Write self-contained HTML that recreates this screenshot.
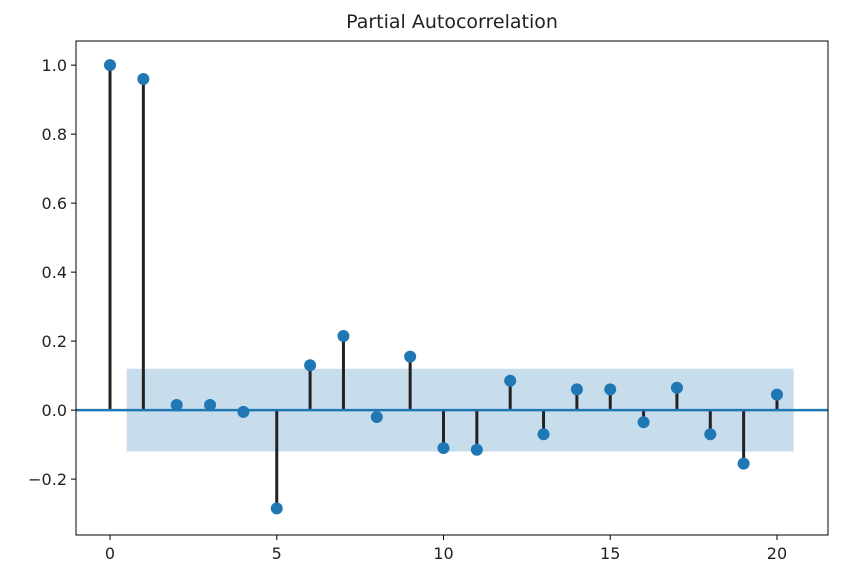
<!DOCTYPE html>
<html><head><meta charset="utf-8"><style>
body{margin:0;background:#fff;}
svg{display:block;font-family:"DejaVu Sans","Liberation Sans",sans-serif;}
</style></head><body>
<svg id="c" width="858" height="585"></svg>
<script>
const lags=[0,1,2,3,4,5,6,7,8,9,10,11,12,13,14,15,16,17,18,19,20];
const pacfValues=[1.0,0.96,0.015,0.015,-0.005,-0.285,0.13,0.215,-0.02,0.155,-0.11,-0.115,0.085,-0.07,0.06,0.06,-0.035,0.065,-0.07,-0.155,0.045];
const confBand=[-0.12,0.12];
const yTicks=[-0.2,0.0,0.2,0.4,0.6,0.8,1.0];
const yTickLabels=["\u22120.2","0.0","0.2","0.4","0.6","0.8","1.0"];
const xTicks=[0,5,10,15,20];
const L=76,R=828,T=41,B=535;
const xMin=-1.02,xMax=21.53,yMin=-0.362,yMax=1.07;
const X=v=>L+(v-xMin)/(xMax-xMin)*(R-L);
const Y=v=>B-(v-yMin)/(yMax-yMin)*(B-T);
const s=document.getElementById('c');const NS='http://www.w3.org/2000/svg';
function mk(t,a,p){const e=document.createElementNS(NS,t);for(const k in a)e.setAttribute(k,a[k]);(p||s).appendChild(e);return e;}
let band=mk('rect',{x:X(0.5),y:Y(confBand[1]),width:X(20.5)-X(0.5),height:Y(confBand[0])-Y(confBand[1]),fill:'#1f77b4','fill-opacity':0.25});


lags.forEach((l,i)=>{
 let ln=mk('line',{x1:X(l),x2:X(l),y1:Y(0),y2:Y(pacfValues[i]),stroke:'#222','stroke-width':3});
 
 
});
let zl=mk('line',{x1:L,x2:R,y1:Y(0),y2:Y(0),stroke:'#1f77b4','stroke-width':2.5});


lags.forEach((l,i)=>{
 let c=mk('circle',{cx:X(l),cy:Y(pacfValues[i]),r:6,fill:'#1f77b4'});
 
 
});
let fr=mk('rect',{x:L,y:T,width:R-L,height:B-T,fill:'none',stroke:'#000','stroke-width':1});


yTicks.forEach((v,i)=>{
 mk('line',{x1:L-5,x2:L,y1:Y(v),y2:Y(v),stroke:'#000'});
 let t=mk('text',{x:L-9,y:Y(v)+6,'text-anchor':'end','font-size':16,fill:'#222'});t.textContent=yTickLabels[i];
 
 
});
xTicks.forEach(v=>{
 mk('line',{x1:X(v),x2:X(v),y1:B,y2:B+5,stroke:'#000'});
 let t=mk('text',{x:X(v),y:B+24,'text-anchor':'middle','font-size':16,fill:'#222'});t.textContent=v;
 
 
});
let ti=mk('text',{x:(L+R)/2,y:28,'text-anchor':'middle','font-size':19,fill:'#222'});ti.textContent='Partial Autocorrelation';


</script></body></html>
